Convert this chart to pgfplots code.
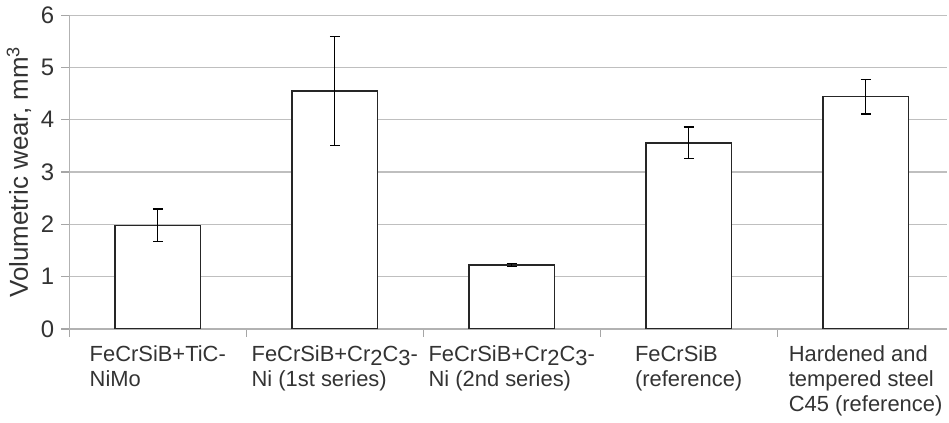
\documentclass[border=0pt]{standalone}
\usepackage{fontspec}
\setmainfont{Liberation Sans}
\usepackage{pgfplots}
\pgfplotsset{compat=1.18}
\begin{document}
\begin{tikzpicture}
\begin{axis}[
  scale only axis,
  width=440.5pt, height=157.5pt,
  xmin=-0.5, xmax=4.46, ymin=0, ymax=6,
  ybar, bar width=43pt,
  axis x line*=bottom, axis y line*=left,
  axis line style={black!30, line width=0.6pt},
  ymajorgrids, grid style={black!25, line width=0.6pt},
  ytick={0,1,2,3,4,5,6},
  ytick style={black!35, line width=0.6pt},
  tick align=outside, major tick length=4pt,
  xtick={-0.5,0.5,1.5,2.5,3.5},
  xticklabels={},
  xtick style={black!35, line width=0.6pt},
  extra x ticks={0,1,2,3,4},
  extra x tick labels={FeCrSiB+TiC-\\NiMo,
    FeCrSiB+Cr\raisebox{-0.3ex}{2}C\raisebox{-0.3ex}{3}-\\Ni (1st series),
    FeCrSiB+Cr\raisebox{-0.3ex}{2}C\raisebox{-0.3ex}{3}-\\Ni (2nd series),
    FeCrSiB\\(reference),
    Hardened and\\tempered steel\\C45 (reference)},
  extra x tick style={major tick length=0pt},
  ticklabel style={text=black!80},
  x tick label style={font=\fontsize{11}{12.5}\selectfont, align=left, yshift=-5pt},
  y tick label style={font=\fontsize{12}{14}\selectfont},
  /pgf/number format/assume math mode=true,
  ylabel={Volumetric wear, mm\textsuperscript{3}},
  ylabel style={font=\fontsize{13}{15}\selectfont, text=black!80, yshift=-2pt},
]
\addplot[fill=white, draw=black!85, line width=0.8pt,
  error bars/.cd, y dir=both, y explicit,
  error bar style={black, line width=0.7pt},
  error mark options={rotate=90, mark size=2.5pt, black, line width=0.7pt}]
  coordinates {
    (0,1.98) +- (0,0.31)
    (1,4.55) +- (0,1.04)
    (2,1.22) +- (0,0.03)
    (3,3.56) +- (0,0.30)
    (4,4.44) +- (0,0.33)
  };
\end{axis}
\end{tikzpicture}
\end{document}
